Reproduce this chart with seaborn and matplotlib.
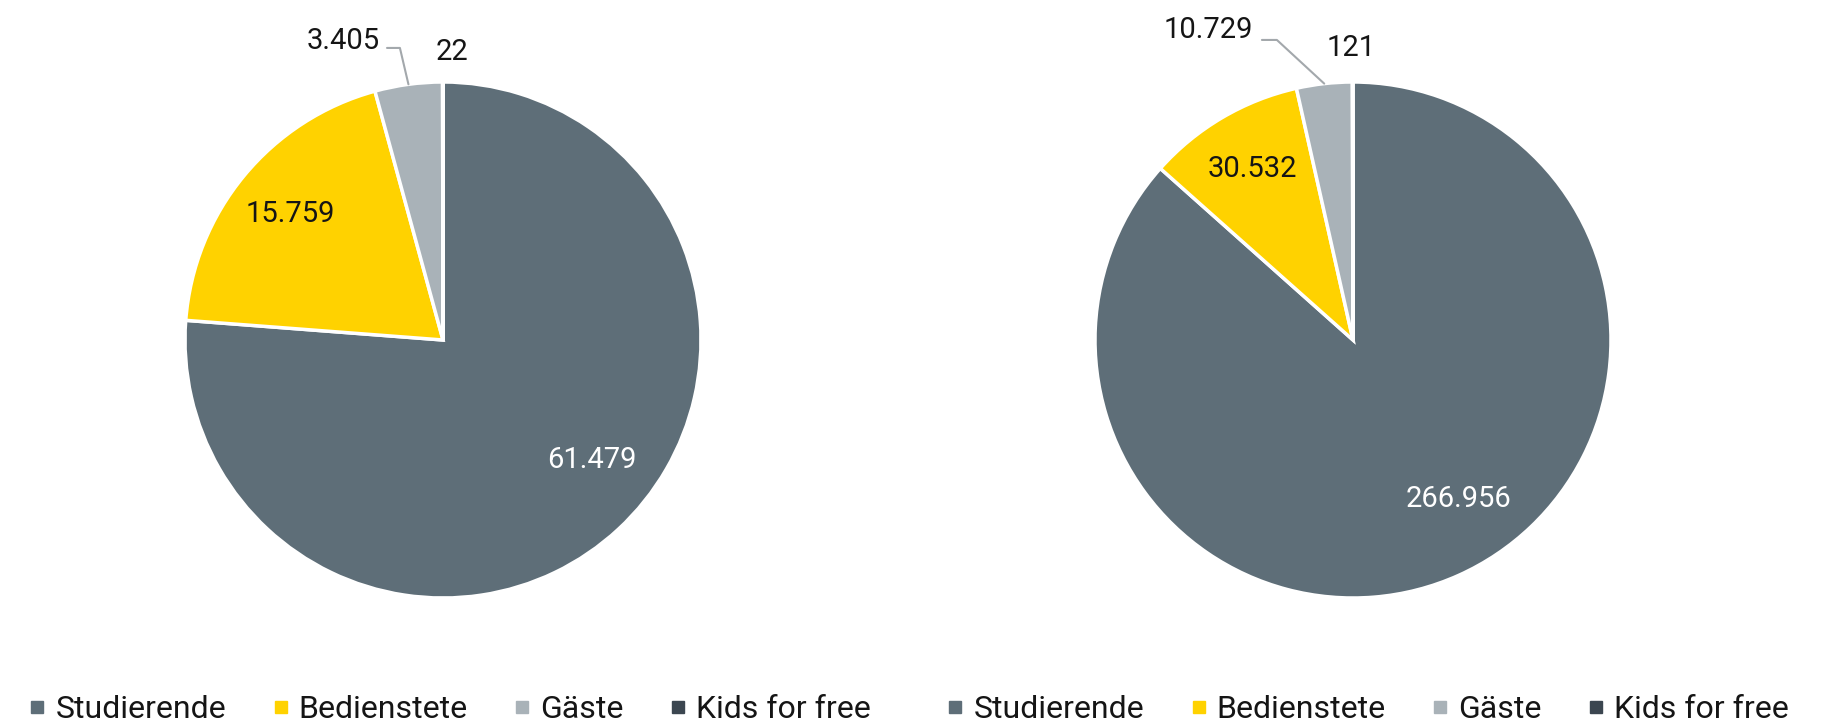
import numpy as np
import matplotlib
matplotlib.use('Agg')
import matplotlib.pyplot as plt
import seaborn as sns
from matplotlib.lines import Line2D

categories = ['Studierende', 'Bedienstete', 'Gäste', 'Kids for free']
values_left = [61479, 15759, 3405, 22]
values_right = [266956, 30532, 10729, 121]

palette = sns.color_palette(['#5e6e78', '#ffd200', '#a9b2b8', '#3b4650'])
text_colors = ['white', '#151515', '#151515', '#151515']

sns.set_theme(style='white')
plt.rcParams['font.family'] = ['Roboto', 'DejaVu Sans']
plt.rcParams['text.color'] = '#151515'

W, H = 1830, 725
R = 258  # pie radius in px

fig = plt.figure(figsize=(W / 100, H / 100), dpi=100)
fig.patch.set_facecolor('white')


def fmt(v):
    return f'{v:,}'.replace(',', '.')


def draw_pie(x0, cx, cy, values, leader, kids_dx, kids_r, legend_x):
    ax = fig.add_axes([x0 / W, 0, 915 / W, 1])
    wedges, _ = ax.pie(values, colors=palette, startangle=90, counterclock=False,
                       wedgeprops=dict(edgecolor='white', linewidth=2.5))
    ax.set_xlim(-(cx - x0) / R, (x0 + 915 - cx) / R)
    ax.set_ylim(-(H - cy) / R, cy / R)
    ax.set_aspect('auto')
    ax.axis('off')

    # labels inside the two big slices
    fracs = [0.47, 0.5]
    dists = [0.74, 0.77]
    for i in range(2):
        w = wedges[i]
        ang = np.deg2rad(w.theta2 - fracs[i] * (w.theta2 - w.theta1))
        ax.text(dists[i] * np.cos(ang), dists[i] * np.sin(ang), fmt(values[i]),
                ha='center', va='center', fontsize=21, color=text_colors[i])

    # Gäste label with leader line
    w = wedges[2]
    mid = np.deg2rad((w.theta1 + w.theta2) / 2)
    ex, ey, hx, tx, ty = leader
    ax.plot([np.cos(mid), ex, hx], [np.sin(mid), ey, ey], color='#a3a8ac', lw=1.5)
    ax.text(tx, ty, fmt(values[2]), ha='right', va='center', fontsize=21, color=text_colors[2])

    # Kids for free label above the tiny slice
    w = wedges[3]
    mid = np.deg2rad((w.theta1 + w.theta2) / 2)
    ax.text(kids_r * np.cos(mid) + kids_dx, kids_r * np.sin(mid), fmt(values[3]),
            ha='center', va='center', fontsize=21, color=text_colors[3])

    handles = [Line2D([], [], marker='s', ls='', color=c, markersize=8.6) for c in palette]
    fig.legend(handles, categories, ncol=4, loc='center left',
               bbox_to_anchor=(legend_x / W, 15 / H), frameon=False, fontsize=23,
               handlelength=0.4, handletextpad=0.37, columnspacing=1.5,
               borderpad=0, borderaxespad=0, labelcolor='#151515')


draw_pie(0, 443, 340, values_left, (-0.167, 1.132, -0.217, -0.244, 1.159), 0.035, 1.116, 31)
draw_pie(915, 1353, 340, values_right, (-0.295, 1.163, -0.353, -0.388, 1.202), -0.005, 1.132, 949)

fig.savefig('out.png', dpi=100)
